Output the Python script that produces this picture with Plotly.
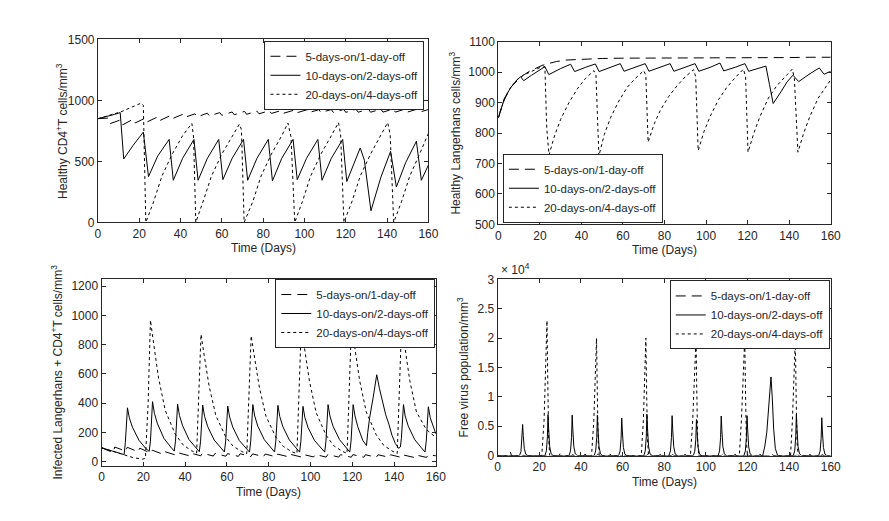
import plotly.graph_objects as go

# ---------------- DATA ----------------
legend_names = ["5-days-on/1-day-off", "10-days-on/2-days-off", "20-days-on/4-days-off"]
x_ticks = [0, 20, 40, 60, 80, 100, 120, 140, 160]

# Panel 1: Healthy CD4+T cells
hc_x_a = [0,5,6,11,12,17,18,23,24,29,30,35,36,41,42,47,48,53,54,59,60,65,66,71,72,77,78,83,84,89,90,95,96,101,102,107,108,113,114,119,120,125,126,131,132,137,138,143,144,149,150,155,156,160]
hc_y_a = [850,855,810,840,800,845,815,855,825,865,835,875,850,885,860,890,865,895,872,900,878,905,882,910,886,912,890,915,893,918,895,920,897,922,899,924,900,925,901,926,902,927,903,928,903,928,904,929,904,930,905,930,905,925]
hc_x_b = [0,4,8,10.8,12.5,17,22,24.5,29,34.5,36.5,41,46.5,48.5,53,58.5,60.5,65,70.5,72.5,77,82.5,84.5,89,94.5,96.5,101,106.5,108.5,113,118.5,120.5,124,127,129,132.2,137,141.7,144.5,149,154.2,156.6,160]
hc_y_b = [850,865,885,900,520,630,740,375,545,680,345,525,680,345,525,680,350,525,680,345,525,680,340,525,680,350,525,680,345,525,680,335,480,610,510,95,370,582,290,490,665,345,470]
hc_x_c = [0,11,21,22,23.2,27,31,36,41,45.5,46.3,47.4,51,55,60,65,68.5,69.5,70.8,75,79,84,89,92,93.5,95.3,99,103,108,113,116.5,117.5,119.1,123,127,132,137,140.3,141.5,143.2,147,151,156,160]
hc_y_c = [850,905,978,960,0,170,380,560,710,812,700,0,175,380,560,710,805,760,0,170,380,560,710,815,700,0,170,380,560,710,818,720,0,170,380,560,710,818,720,0,170,380,570,730]

# Panel 2: Healthy Langerhans cells
hl_x_a = [0,2,4,6,8,10,12,15,18,21,24,28,33,40,50,60,70,80,90,100,110,120,130,140,150,160]
hl_y_a = [850,895,925,950,965,978,990,1003,1013,1022,1028,1035,1040,1043,1045,1046,1046,1047,1047,1047,1048,1048,1048,1048,1049,1049]
hl_x_b = [0,3,6,9,10.7,12.2,16,20,22.4,24.3,30,34.8,36.7,42,46.7,48.5,54,58.7,60.5,66,70.7,72.5,78,82.7,84.5,90,94.7,96.5,102,106.7,108.5,114,118.7,120.5,126,128.8,130.5,132.3,136,139,141.8,144.6,150,154.5,156.8,160]
hl_y_b = [850,915,950,975,985,972,990,1008,1018,992,1012,1026,1002,1016,1027,1002,1016,1028,1003,1016,1028,1003,1016,1028,1003,1016,1028,1003,1016,1030,1004,1016,1028,1003,1016,1020,960,897,935,968,990,969,995,1014,993,1003]
hl_x_c = [0,3,6,9,12,16,20,22.4,23.3,24.4,27,30,34,38,42,46,47,48.4,51,54,58,62,66,70,71,72.1,75,78,82,86,90,94,95,96.2,99,102,106,110,114,118,119,120.2,123,126,130,134,138,141.5,142.5,144.2,147,150,154,160]
hl_y_c = [850,915,950,975,990,1003,1015,1018,815,728,790,845,900,945,980,1005,990,725,795,850,905,950,980,1005,990,770,830,875,920,955,985,1008,985,742,805,855,910,950,982,1010,985,737,800,855,915,955,985,1010,980,737,800,855,915,975]

# Panel 3: Infected Langerhans + CD4+T cells
il_x_a = [0,5.5,6.3,11.5,12.3,17.5,18.3,23.5,24.3,29.5,30.3,35.5,36.3,41.5,42.3,47.5,48.3,53.5,54.3,59.5,60.3,65.5,66.3,71.5,72.3,77.5,78.3,83.5,84.3,89.5,90.3,95.5,96.3,101.5,102.3,107.5,108.3,113.5,114.3,119.5,120.3,125.5,126.3,131.5,132.3,137.5,138.3,143.5,144.3,149.5,150.3,155.5,156.3,160]
il_y_a = [95,62,100,72,98,68,92,58,78,50,68,45,62,42,60,40,58,38,56,37,55,36,54,35,53,34,52,33,51,33,50,32,50,32,49,31,49,31,48,30,48,30,47,30,47,30,47,29,46,29,46,29,46,40]
il_x_b = [0,5,10.8,11.4,12.4,13.3,14.8,17.9,21.1,22.8,23.4,24.4,25.3,26.8,29.9,33.1,34.8,35.4,36.4,37.3,38.8,41.9,45.1,46.8,47.4,48.4,49.3,50.8,53.9,57.1,58.8,59.4,60.4,61.3,62.8,65.9,69.1,70.8,71.4,72.4,73.3,74.8,77.9,81.1,82.8,83.4,84.4,85.3,86.8,89.9,93.1,94.8,95.4,96.4,97.3,98.8,101.9,105.1,106.8,107.4,108.4,109.3,110.8,113.9,117.1,118.8,119.4,120.4,121.3,122.6,125,126.8,127.4,128.3,130,131.7,133,134.4,136,137.5,139,140.6,142.2,143,143.5,144.5,145.3,146.8,149.9,153.1,154.8,155.4,156.4,157.3,158.8,160]
il_y_b = [95,72,48,130,368,300,235,146,91,70,140,410,330,258,158,100,72,140,393,315,245,150,95,68,140,387,310,240,148,93,66,140,380,305,236,145,92,65,140,390,312,242,150,94,66,140,385,308,238,148,93,65,140,378,302,234,145,92,65,140,390,312,242,150,94,66,140,390,312,240,146,110,200,300,440,594,500,413,320,257,180,124,91,100,160,390,312,242,150,94,66,140,375,300,232,190]
il_x_c = [0,10,15,19.5,21,22.3,23.4,25,27.3,30.5,35.2,39,43,45.5,46.4,47.6,49.2,51.5,54.7,59.4,63,67,69.5,70.4,71.6,73.2,75.5,78.7,83.4,87,91,93.5,94.4,95.6,97.2,99.5,102.7,107.4,111,115,117.5,118.4,119.6,121.2,123.5,126.7,131.4,135,139,141.5,142.4,143.6,145.2,147.5,150.7,155.4,160]
il_y_c = [95,48,28,17,22,400,967,800,570,350,190,115,75,58,380,870,720,515,315,170,105,70,55,360,860,715,510,310,168,104,68,55,420,930,770,550,335,182,110,72,56,420,940,780,555,340,185,112,73,56,420,940,780,555,340,220,165]

# Panel 4: Free virus population
fv_x_a = [0,5.4,6,6.7,11.4,12,12.7,17.4,18,18.7,23.4,24,24.7,29.4,30,30.7,35.4,36,36.7,41.4,42,42.7,47.4,48,48.7,53.4,54,54.7,59.4,60,60.7,65.4,66,66.7,71.4,72,72.7,77.4,78,78.7,83.4,84,84.7,89.4,90,90.7,95.4,96,96.7,101.4,102,102.7,107.4,108,108.7,113.4,114,114.7,119.4,120,120.7,125.4,126,126.7,131.4,132,132.7,137.4,138,138.7,143.4,144,144.7,149.4,150,150.7,155.4,156,156.7,160]
fv_y_a = [0,0,700,0,0,150,0,0,380,0,0,250,0,0,300,0,0,200,0,0,260,0,0,220,0,0,280,0,0,180,0,0,240,0,0,200,0,0,230,0,0,190,0,0,250,0,0,200,0,0,220,0,0,180,0,0,240,0,0,200,0,0,230,0,0,190,0,0,220,0,0,200,0,0,210,0,0,190,0,0]
fv_x_b = [0,10.5,11.2,11.7,12,12.3,12.8,13.5,14.5,
          22.7,23.4,23.9,24.2,24.5,25,25.7,26.7,
          34.3,35,35.5,35.8,36.1,36.6,37.3,38.3,
          46.4,47.1,47.6,47.9,48.2,48.7,49.4,50.4,
          58.1,58.8,59.3,59.6,59.9,60.4,61.1,62.1,
          70.2,70.9,71.4,71.7,72,72.5,73.2,74.2,
          82.3,83,83.5,83.8,84.1,84.6,85.3,86.3,
          94,94.7,95.2,95.5,95.8,96.3,97,98,
          105.9,106.6,107.1,107.4,107.7,108.2,108.9,109.9,
          118.3,119,119.5,119.8,120.1,120.6,121.3,122.3,
          127.3,128.3,129.3,130.3,131.3,131.9,132.6,133.4,134.5,
          142,142.7,143.2,143.5,143.8,144.3,145,146,
          154.2,154.9,155.4,155.7,156,156.5,157.2,158.2,160]
fv_y_b = [0,0,700,2800,5300,3400,1200,250,0,
          0,800,3200,7000,4500,1500,300,0,
          0,800,3100,6900,4500,1500,300,0,
          0,800,3100,6900,4500,1500,300,0,
          0,750,2900,6400,4200,1400,260,0,
          0,800,3200,7050,4600,1550,300,0,
          0,800,3100,6800,4400,1500,280,0,
          0,750,2800,6150,4000,1350,250,0,
          0,800,3100,6750,4400,1500,280,0,
          0,800,3100,6800,4400,1500,280,0,
          0,1500,4000,8500,13400,10000,4500,1200,0,
          0,800,3200,7050,4600,1550,300,0,
          0,750,2900,6450,4200,1400,260,0,0]
fv_x_c = [0,21.2,22.3,23,23.7,24.1,24.5,25,
          45.1,46.2,46.9,47.5,47.9,48.3,48.8,
          69,70,70.6,71.2,71.6,72,72.5,
          92.6,93.7,94.5,95.3,95.7,96.1,96.6,
          116.1,117.1,117.9,118.7,119.1,119.5,120,
          140.7,141.6,142.3,143,143.4,143.8,144.3,160]
fv_y_c = [0,0,6000,14000,23000,12000,3000,0,
          0,6000,13000,20000,10000,2500,0,
          0,6000,13000,20000,10000,2500,0,
          0,6000,13000,20000,10000,2500,0,
          0,6000,13000,20000,10000,2500,0,
          0,6000,13000,20000,10000,2500,0,0]
fv_ticks = [0, 5000, 10000, 15000, 20000, 25000, 30000]
fv_tick_text = ["0", "0.5", "1", "1.5", "2", "2.5", "3"]

# ---------------- FIGURE ----------------
FONT = "Liberation Sans, Arial, sans-serif"
TXT = "#262626"
styles = [dict(color="black", width=1, dash="10px,6px"),
          dict(color="black", width=1),
          dict(color="black", width=1, dash="3px,3px")]

panels = [
    ("x", "y", "legend", [(hc_x_a, hc_y_a), (hc_x_b, hc_y_b), (hc_x_c, hc_y_c)]),
    ("x2", "y2", "legend2", [(hl_x_a, hl_y_a), (hl_x_b, hl_y_b), (hl_x_c, hl_y_c)]),
    ("x3", "y3", "legend3", [(il_x_a, il_y_a), (il_x_b, il_y_b), (il_x_c, il_y_c)]),
    ("x4", "y4", "legend4", [(fv_x_a, fv_y_a), (fv_x_b, fv_y_b), (fv_x_c, fv_y_c)]),
]

fig = go.Figure()
for xa, ya, lg, series in panels:
    for (xs, ys), name, st in zip(series, legend_names, styles):
        fig.add_trace(go.Scatter(x=xs, y=ys, mode="lines", name=name, line=st,
                                 xaxis=xa, yaxis=ya, legend=lg, showlegend=True))

W, H = 889, 521
def px(v):
    return v / W
def py(v):
    return 1 - v / H

def axis(domain, rng, anchor, **kw):
    d = dict(domain=domain, range=rng, anchor=anchor, showline=True, linecolor=TXT,
             linewidth=1, mirror="ticks", ticks="inside", ticklen=4, tickcolor=TXT,
             showgrid=False, zeroline=False,
             tickfont=dict(family=FONT, size=12, color=TXT))
    d.update(kw)
    return d

boxes = {
    1: (96.3, 431.7, 33.3, 221.3),
    2: (502.7, 840.0, 35.7, 223.3),
    3: (100.0, 439.3, 279.3, 471.7),
    4: (502.0, 840.0, 280.0, 461.0),
}

def xdom(k):
    b = boxes[k]
    return [px(b[0]), px(b[1])]
def ydom(k):
    b = boxes[k]
    return [py(b[3]), py(b[2])]

leg_common = dict(bgcolor="white", bordercolor=TXT, borderwidth=1,
                  font=dict(family=FONT, size=11.5, color=TXT), tracegroupgap=0)

fig.update_layout(
    width=W, height=H, margin=dict(l=0, r=0, t=0, b=0),
    paper_bgcolor="white", plot_bgcolor="white",
    xaxis=axis(xdom(1), [0, 160], "y", tickvals=x_ticks),
    yaxis=axis(ydom(1), [0, 1500], "x", tickvals=[0, 500, 1000, 1500]),
    xaxis2=axis(xdom(2), [0, 160], "y2", tickvals=x_ticks),
    yaxis2=axis(ydom(2), [500, 1100], "x2", tickvals=[500, 600, 700, 800, 900, 1000, 1100]),
    xaxis3=axis(xdom(3), [0, 160], "y3", tickvals=x_ticks),
    yaxis3=axis(ydom(3), [-30, 1250], "x3", tickvals=[0, 200, 400, 600, 800, 1000, 1200]),
    xaxis4=axis(xdom(4), [0, 160], "y4", tickvals=x_ticks),
    yaxis4=axis(ydom(4), [0, 30000], "x4", tickvals=fv_ticks, ticktext=fv_tick_text),
    legend=dict(x=px(427.7), y=py(34.7), xanchor="right", yanchor="top", **leg_common),
    legend2=dict(x=px(507.3), y=py(221.7), xanchor="left", yanchor="bottom", **leg_common),
    legend3=dict(x=px(438.7), y=py(279.5), xanchor="right", yanchor="top", **leg_common),
    legend4=dict(x=px(839.0), y=py(281.0), xanchor="right", yanchor="top", **leg_common),
)

def ann(text, x, y, angle=0, xanchor="center"):
    fig.add_annotation(text=text, x=x, y=y, xref="paper", yref="paper", showarrow=False,
                       textangle=angle, xanchor=xanchor, yanchor="middle",
                       font=dict(family=FONT, size=12, color=TXT))

ann("Time (Days)", px(264), py(248))
ann("Time (Days)", px(671.4), py(250))
ann("Time (Days)", px(269.7), py(498))
ann("Time (Days)", px(671), py(488))
ann("Healthy CD4<sup>+</sup>T cells/mm<sup>3</sup>", px(60), py(127.3), angle=-90)
ann("Healthy Langerhans cells/mm<sup>3</sup>", px(458.3), py(129.5), angle=-90)
ann("Infected Langerhans + CD4<sup>+</sup>T cells/mm<sup>3</sup>", px(55), py(375.5), angle=-90)
ann("Free virus population/mm<sup>3</sup>", px(466.7), py(370.5), angle=-90)
ann("× 10<sup>4</sup>", px(503), py(269), xanchor="left")

fig.write_html("out.html")
